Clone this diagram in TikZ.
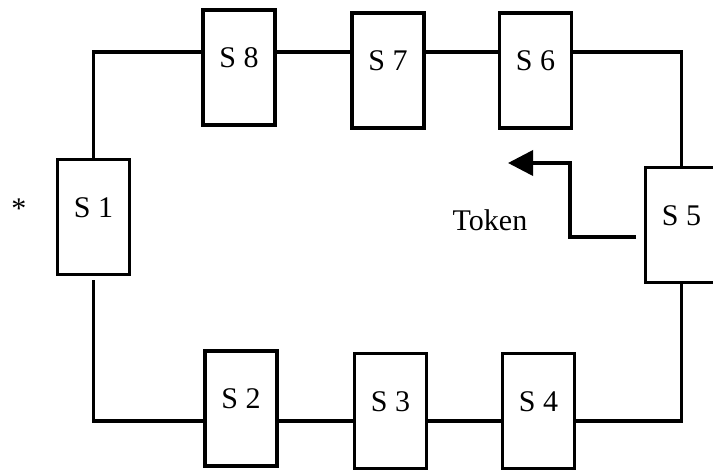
\documentclass[tikz,border=0pt]{standalone}
\usepackage{fontspec}
\setmainfont{Liberation Serif}
\usetikzlibrary{arrows.meta}
\begin{document}
\begin{tikzpicture}[x=1pt,y=-1pt,
  line width=3.7pt,
  station/.style={draw, rectangle, line width=3.5pt, minimum width=72pt, minimum height=115pt,
    inner sep=0pt, text height=10pt, text depth=10pt, font=\fontsize{30}{35}\selectfont},
  lbl/.style={font=\fontsize{30}{35}\selectfont, inner sep=0pt, anchor=base}]
\useasboundingbox (0,0) rectangle (713,471);
\clip (0,0) rectangle (713,471);
\node[station] (S8) at (239,67.5) {S 8};
\node[station] (S7) at (388,70.5) {S 7};
\node[station] (S6) at (535.5,70.5) {S 6};
\node[station] (S1) at (93.5,217) {S 1};
\node[station] (S5) at (681.5,225) {S 5};
\node[station] (S2) at (241,408.5) {S 2};
\node[station] (S3) at (390.5,411) {S 3};
\node[station] (S4) at (538.5,411) {S 4};
\node[lbl] (star) at (19,218) {*};
\node[lbl] (token) at (490,230) {Token};
\coordinate (top) at (0,52);
\coordinate (bot) at (0,421);
\draw (S1.north) |- (S8.west |- top);
\draw (S8.east |- top) -- (S7.west |- top);
\draw (S7.east |- top) -- (S6.west |- top);
\draw (S6.east |- top) -| (S5.north);
\draw (S5.south) |- (S4.east |- bot);
\draw (S4.west |- bot) -- (S3.east |- bot);
\draw (S3.west |- bot) -- (S2.east |- bot);
\draw[shorten >=4pt] (S2.west |- bot) -| (S1.south);
\coordinate (tokstart) at (636,237);
\coordinate (tokbend) at (570,163);
\coordinate (tokend) at (508,163);
\draw[-{Triangle[length=25pt,width=25pt]}] (tokstart) -| (tokbend) -- (tokend);
\end{tikzpicture}
\end{document}
